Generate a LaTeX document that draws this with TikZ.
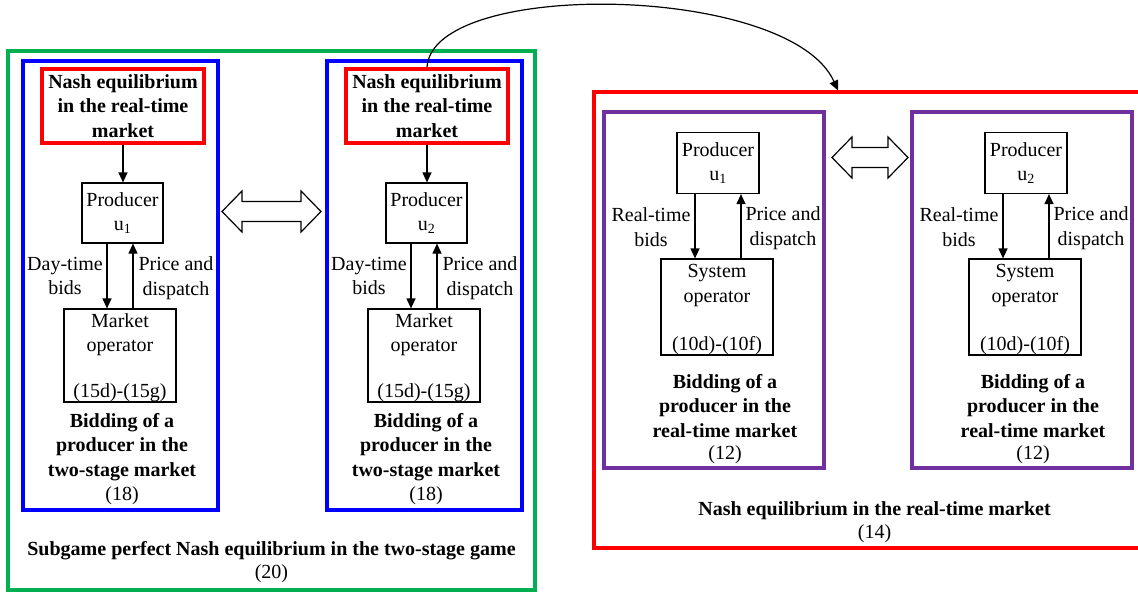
\documentclass[tikz,border=0pt]{standalone}
\usepackage{fontspec}
\setmainfont{Liberation Serif}
\usetikzlibrary{arrows.meta}
\definecolor{fgreen}{RGB}{0,176,80}
\definecolor{fblue}{RGB}{0,0,255}
\definecolor{fred}{RGB}{255,0,0}
\definecolor{fpurple}{RGB}{112,48,160}
\tikzset{
  frame/.style={draw, line width=3.2pt},
  box/.style={draw, line width=1.2pt, inner sep=0pt},
  txt/.style={font=\fontsize{20}{24.5}\selectfont, align=center, inner sep=0pt},
  btxt/.style={font=\fontsize{20}{24.5}\selectfont\bfseries, align=center, inner sep=0pt},
  arr/.style={-{Triangle[length=10pt,width=9pt]}, line width=1.2pt},
  dbl/.style={draw, line width=1.2pt, fill=white, line join=miter},
}
\newcommand\dblarr[3]{% left tip x, right tip x, centre y
  \draw[dbl] (#1,#3) -- ({#1+20},{#3-20.5}) -- ({#1+20},{#3-10}) -- ({#2-20},{#3-10})
    -- ({#2-20},{#3-20.5}) -- (#2,#3) -- ({#2-20},{#3+20.5}) -- ({#2-20},{#3+10})
    -- ({#1+20},{#3+10}) -- ({#1+20},{#3+20.5}) -- cycle;}
\begin{document}
\begin{tikzpicture}[x=1pt,y=-1pt]
\useasboundingbox (0,0) rectangle (1138,592);
% ---------- left: two-stage game ----------
\draw[frame, fgreen] (8,51) rectangle (535,590);
\foreach \i/\dx in {1/0, 2/304} {
  \draw[frame, fblue] ({23+\dx},61) rectangle ({218+\dx},510);
  \node[btxt, draw=fred, line width=3.2pt, minimum width=162pt, minimum height=74pt]
    (nash\i) at ({123+\dx},106) {Nash equilibrium\\in the real-time\\market};
  \node[box, txt, minimum width=81pt, minimum height=60pt]
    (prod\i) at ({122.5+\dx},213) {Producer\\u\textsubscript{\i}};
  \node[box, minimum width=112pt, minimum height=93pt] (mkt\i) at ({120+\dx},355.5) {};
  \node[txt, anchor=north] (mkttop\i) at ([yshift=-5pt]mkt\i.north) {Market\\operator};
  \node[txt, anchor=south] (mktbot\i) at ([yshift=1pt]mkt\i.south) {(15d)-(15g)};
  \draw[arr] (nash\i.south) -- (nash\i.south |- prod\i.north);
  \coordinate (da\i) at ({107+\dx},0);
  \coordinate (ua\i) at ({133+\dx},0);
  \draw[arr] (prod\i.south -| da\i) -- (mkt\i.north -| da\i);
  \draw[arr] (mkt\i.north -| ua\i) -- (prod\i.south -| ua\i);
  \node[txt] (dt\i) at ({65+\dx},276) {Day-time\\bids};
  \node[txt] (pd\i) at ({176+\dx},278) {Price and\\dispatch};
  \node[txt, anchor=north] (bid\i) at ({122+\dx},413)
    {\textbf{Bidding of a}\\\textbf{producer in the}\\\textbf{two-stage market}\\[0pt](18)};
}
\dblarr{222}{321}{211.5}
\node[txt, anchor=north] (spne) at (271.5,541)
  {\textbf{Subgame perfect Nash equilibrium in the two-stage game}\\[-1pt](20)};
% ---------- right: real-time market ----------
\draw[frame, fred] (1145,92) -- (594,92) -- (594,548) -- (1145,548);
\foreach \i/\dx in {1/0, 2/308} {
  \draw[frame, fpurple] ({604+\dx},112) rectangle ({824+\dx},468);
  \node[box, txt, minimum width=82pt, minimum height=61pt]
    (rprod\i) at ({718+\dx},163) {Producer\\u\textsubscript{\i}};
  \node[box, minimum width=112pt, minimum height=96pt] (sys\i) at ({717+\dx},307) {};
  \node[txt, anchor=north] (systop\i) at ([yshift=-6pt]sys\i.north) {System\\operator};
  \node[txt, anchor=south] (sysbot\i) at ([yshift=1pt]sys\i.south) {(10d)-(10f)};
  \coordinate (rda\i) at ({695+\dx},0);
  \coordinate (rua\i) at ({741+\dx},0);
  \draw[arr] (rprod\i.south -| rda\i) -- (sys\i.north -| rda\i);
  \draw[arr] (sys\i.north -| rua\i) -- (rprod\i.south -| rua\i);
  \node[txt] (rt\i) at ({651+\dx},227) {Real-time\\bids};
  \node[txt] (rpd\i) at ({783+\dx},228) {Price and\\dispatch};
  \node[txt, anchor=north] (rbid\i) at ({725+\dx},374)
    {\textbf{Bidding of a}\\\textbf{producer in the}\\\textbf{real-time market}\\[-2pt](12)};
}
\dblarr{832}{908}{157.5}
\node[txt, anchor=north] (nert) at (874.5,501)
  {\textbf{Nash equilibrium in the real-time market}\\[-1pt](14)};
% ---------- curved link ----------
\coordinate (redtop) at (838,90.5);
\draw[arr] (nash2.north) .. controls +(5,-89) and +(-48,-107) .. (redtop);
\end{tikzpicture}
\end{document}
